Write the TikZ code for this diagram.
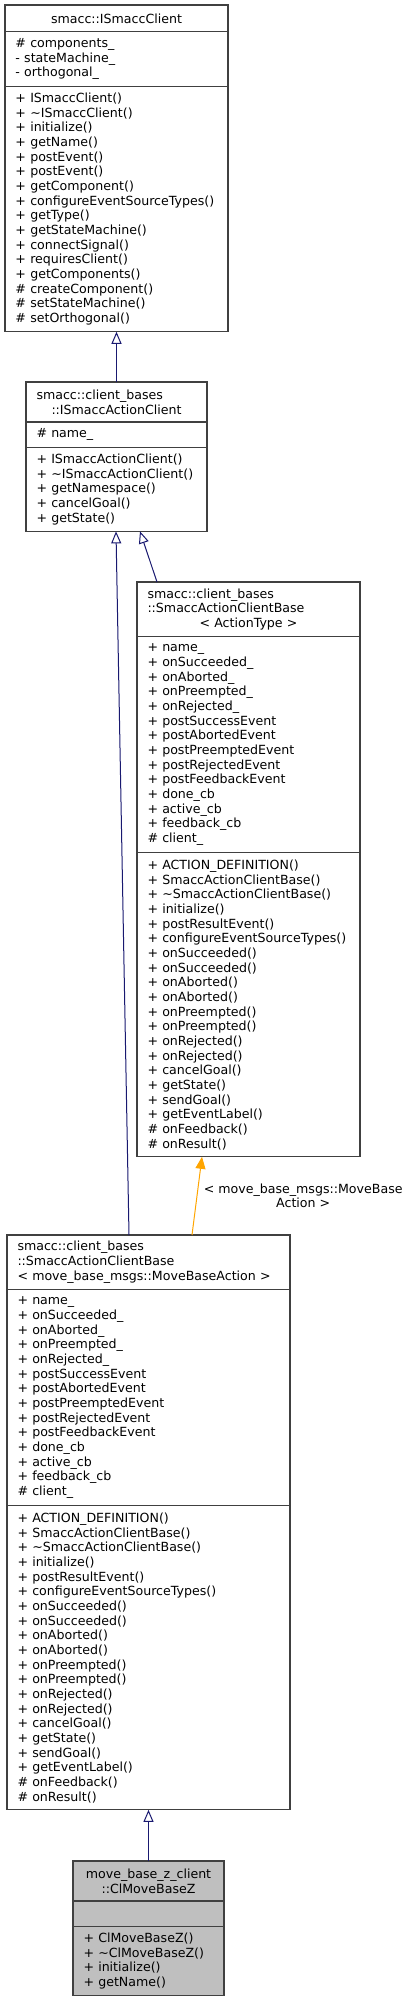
\documentclass[tikz,border=0pt]{standalone}
\usepackage{fontspec}
\setmainfont{DejaVu Sans}
\usetikzlibrary{arrows.meta, positioning, calc}
\definecolor{edgenavy}{HTML}{191970}
\definecolor{edgeorange}{HTML}{FFA500}
\definecolor{boxline}{HTML}{404040}
\definecolor{rootfill}{HTML}{BFBFBF}
\newcommand{\umlfont}{\fontsize{12.6}{14.67}\selectfont}

\begin{document}
\begin{tikzpicture}[x=1pt, y=1pt, font=\umlfont,
  classpart/.style={draw=boxline, line width=1.2pt, fill=white, outer sep=0pt,
    inner xsep=10.5pt, inner ysep=2pt, text width=#1, align=left},
  nrows/.style={minimum height=#1*14.67pt+10.67pt},
  inherit/.style={draw=edgenavy, line width=1pt, -{Triangle[open, length=12pt, width=10pt]}},
  tplinst/.style={draw=edgeorange, line width=1pt, -{Triangle[length=12pt, width=10pt]}}]
  \useasboundingbox (0,0) rectangle (413,-2001);

  % smacc::ISmaccClient
  \node[classpart=202pt, nrows=1, minimum height=26.7pt, align=center, anchor=north west]
    (iclient-name) at (5,-5) {smacc::ISmaccClient};
  \node[classpart=202pt, nrows=3, below=0pt of iclient-name] (iclient-attrs)
    {\# components\_\\- stateMachine\_\\- orthogonal\_};
  \node[classpart=202pt, nrows=16, below=0pt of iclient-attrs] (iclient-ops)
    {+ ISmaccClient()\\+ \textasciitilde ISmaccClient()\\+ initialize()\\+ getName()\\
     + postEvent()\\+ postEvent()\\+ getComponent()\\+ configureEventSourceTypes()\\
     + getType()\\+ getStateMachine()\\+ connectSignal()\\+ requiresClient()\\
     + getComponents()\\\# createComponent()\\\# setStateMachine()\\\# setOrthogonal()};

  % smacc::client_bases::ISmaccActionClient
  \node[classpart=160pt, nrows=2, anchor=north west] (iaction-name) at (26,-382)
    {smacc::client\_bases\\\makebox[\hsize]{::ISmaccActionClient}};
  \node[classpart=160pt, nrows=1, below=0pt of iaction-name] (iaction-attrs) {\# name\_};
  \node[classpart=160pt, nrows=5, below=0pt of iaction-attrs] (iaction-ops)
    {+ ISmaccActionClient()\\+ \textasciitilde ISmaccActionClient()\\+ getNamespace()\\
     + cancelGoal()\\+ getState()};

  % template SmaccActionClientBase< ActionType >
  \node[classpart=202pt, nrows=3, anchor=north west] (basetpl-name) at (137,-582)
    {smacc::client\_bases\\::SmaccActionClientBase\\\makebox[\hsize]{< ActionType >}};
  \node[classpart=202pt, nrows=14, below=0pt of basetpl-name] (basetpl-attrs)
    {+ name\_\\+ onSucceeded\_\\+ onAborted\_\\+ onPreempted\_\\+ onRejected\_\\
     + postSuccessEvent\\+ postAbortedEvent\\+ postPreemptedEvent\\+ postRejectedEvent\\
     + postFeedbackEvent\\+ done\_cb\\+ active\_cb\\+ feedback\_cb\\\# client\_};
  \node[classpart=202pt, nrows=20, below=0pt of basetpl-attrs] (basetpl-ops)
    {+ ACTION\_DEFINITION()\\+ SmaccActionClientBase()\\+ \textasciitilde SmaccActionClientBase()\\
     + initialize()\\+ postResultEvent()\\+ configureEventSourceTypes()\\
     + onSucceeded()\\+ onSucceeded()\\+ onAborted()\\+ onAborted()\\
     + onPreempted()\\+ onPreempted()\\+ onRejected()\\+ onRejected()\\
     + cancelGoal()\\+ getState()\\+ sendGoal()\\+ getEventLabel()\\
     \# onFeedback()\\\# onResult()};

  % SmaccActionClientBase< move_base_msgs::MoveBaseAction >
  \node[classpart=262pt, nrows=3, anchor=north west] (basemb-name) at (7,-1235)
    {smacc::client\_bases\\::SmaccActionClientBase\\< move\_base\_msgs::MoveBaseAction >};
  \node[classpart=262pt, nrows=14, below=0pt of basemb-name] (basemb-attrs)
    {+ name\_\\+ onSucceeded\_\\+ onAborted\_\\+ onPreempted\_\\+ onRejected\_\\
     + postSuccessEvent\\+ postAbortedEvent\\+ postPreemptedEvent\\+ postRejectedEvent\\
     + postFeedbackEvent\\+ done\_cb\\+ active\_cb\\+ feedback\_cb\\\# client\_};
  \node[classpart=262pt, nrows=20, below=0pt of basemb-attrs] (basemb-ops)
    {+ ACTION\_DEFINITION()\\+ SmaccActionClientBase()\\+ \textasciitilde SmaccActionClientBase()\\
     + initialize()\\+ postResultEvent()\\+ configureEventSourceTypes()\\
     + onSucceeded()\\+ onSucceeded()\\+ onAborted()\\+ onAborted()\\
     + onPreempted()\\+ onPreempted()\\+ onRejected()\\+ onRejected()\\
     + cancelGoal()\\+ getState()\\+ sendGoal()\\+ getEventLabel()\\
     \# onFeedback()\\\# onResult()};

  % move_base_z_client::ClMoveBaseZ
  \node[classpart=130pt, nrows=2, fill=rootfill, align=center, anchor=north west]
    (clmove-name) at (73,-1861) {move\_base\_z\_client\\::ClMoveBaseZ};
  \node[classpart=130pt, nrows=1, fill=rootfill, below=0pt of clmove-name] (clmove-attrs) {};
  \node[classpart=130pt, nrows=4, fill=rootfill, below=0pt of clmove-attrs] (clmove-ops)
    {+ ClMoveBaseZ()\\+ \textasciitilde ClMoveBaseZ()\\+ initialize()\\+ getName()};

  % inheritance
  \draw[inherit] (iaction-name.north) -- (iclient-ops.south);
  \draw[inherit] ([xshift=-91.5pt]basetpl-name.north) -- ([xshift=23.5pt]iaction-ops.south);
  \draw[inherit] ([xshift=-19.5pt]basemb-name.north) -- ([xshift=-0.5pt]iaction-ops.south);
  \draw[tplinst] ([xshift=43.5pt]basemb-name.north) --
    node[midway, anchor=west, xshift=3pt, align=center] (tplarg-label)
    {< move\_base\_msgs::MoveBase\\Action >} ([xshift=-46.5pt]basetpl-ops.south);
  \draw[inherit] (clmove-name.north) -- (basemb-ops.south);
\end{tikzpicture}
\end{document}
